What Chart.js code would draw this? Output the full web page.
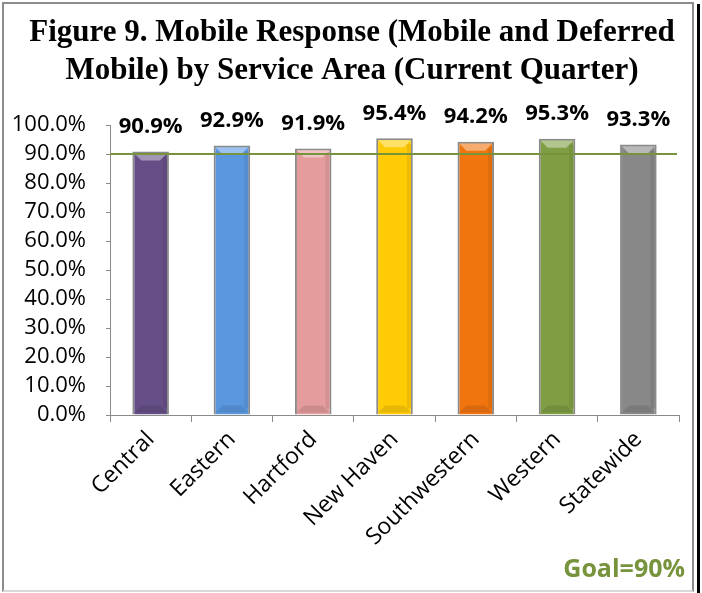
<!DOCTYPE html>
<html>
<head>
<meta charset="utf-8">
<script src="https://cdn.jsdelivr.net/npm/chart.js@4.4.1/dist/chart.umd.min.js"></script>
<style>
  html, body { margin: 0; padding: 0; background: #fff; }
  #wrap { position: relative; width: 702px; height: 593px; overflow: hidden; }
  #myChart { position: absolute; left: 0; top: 0; }
  #frame { position: absolute; left: 2px; top: 2px; width: 688px; height: 586px;
           border: 2px solid #8c8c8c; border-bottom-color: #d9d9d9; }
  #edge { position: absolute; left: 697px; top: 4px; width: 3px; height: 589px; background: #000; }
</style>
</head>
<body>
<div id="wrap">
  <canvas id="myChart" width="702" height="593"></canvas>
  <div id="frame"></div>
  <div id="edge"></div>
</div>
<script>
var areas = ['Central', 'Eastern', 'Hartford', 'New Haven', 'Southwestern', 'Western', 'Statewide'];
var mobileRate = [0.909, 0.929, 0.919, 0.954, 0.942, 0.953, 0.933];
var barColors = ['#664f86', '#5a97df', '#e49c9c', '#ffcb05', '#f0750f', '#7f9e43', '#888888'];
var goal = 0.9;
var goalText = 'Goal=90%';
var titleLines = ['Figure 9. Mobile Response (Mobile and Deferred', 'Mobile) by Service Area (Current Quarter)'];

function pct(v) { return (v * 100).toFixed(1) + '%'; }

// lighten / darken a hex colour
function shade(hex, amt) {
    var n = parseInt(hex.slice(1), 16);
    var r = n >> 16, g = (n >> 8) & 255, b = n & 255;
    function f(c) { return Math.round(amt > 0 ? c + (255 - c) * amt : c * (1 + amt)); }
    return 'rgb(' + f(r) + ',' + f(g) + ',' + f(b) + ')';
}

// little bevel on top and bottom of every bar
var bevelPlugin = {
    id: 'bevel',
    afterDatasetsDraw: function(chart) {
        var ctx = chart.ctx;
        chart.getDatasetMeta(0).data.forEach(function(bar, k) {
            var l = bar.x - bar.width / 2 + 2, r = bar.x + bar.width / 2 - 2;
            var t = bar.y + 2, b = bar.base - 2, d = 7;
            ctx.save();
            ctx.fillStyle = shade(barColors[k], 0.4);
            ctx.beginPath();
            ctx.moveTo(l, t); ctx.lineTo(r, t); ctx.lineTo(r - d, t + d); ctx.lineTo(l + d, t + d);
            ctx.closePath(); ctx.fill();
            ctx.fillStyle = shade(barColors[k], -0.1);
            ctx.beginPath();
            ctx.moveTo(l, b); ctx.lineTo(r, b); ctx.lineTo(r - d, b - d); ctx.lineTo(l + d, b - d);
            ctx.closePath(); ctx.fill();
            ctx.fillStyle = shade(barColors[k], -0.07);
            ctx.fillRect(r - 4, t + 4, 4, b - t - 8);
            ctx.restore();
        });
    }
};

// title, goal line, value labels and goal caption
var extrasPlugin = {
    id: 'extras',
    afterDraw: function(chart) {
        var ctx = chart.ctx, area = chart.chartArea;
        ctx.save();
        ctx.fillStyle = '#000';
        ctx.font = 'bold 31px "Liberation Serif"';
        ctx.textAlign = 'center';
        ctx.textBaseline = 'alphabetic';
        ctx.fillText(titleLines[0], 352, 41);
        ctx.fillText(titleLines[1], 352, 79);

        var y = chart.scales.y.getPixelForValue(goal);
        ctx.strokeStyle = '#77933c';
        ctx.lineWidth = 2;
        ctx.beginPath();
        ctx.moveTo(area.left, y);
        ctx.lineTo(area.right - 2, y);
        ctx.stroke();

        ctx.font = 'bold 22px "Open Sans"';
        ctx.textBaseline = 'middle';
        chart.getDatasetMeta(0).data.forEach(function(bar, k) {
            ctx.fillText(pct(mobileRate[k]), bar.x, bar.y - 25);
        });

        ctx.fillStyle = '#77933c';
        ctx.font = 'bold 25px "Open Sans"';
        ctx.textAlign = 'right';
        ctx.textBaseline = 'alphabetic';
        ctx.fillText(goalText, 685, 577);
        ctx.restore();
    }
};

var ctx = document.getElementById('myChart').getContext('2d');
var myChart = new Chart(ctx, {
    type: 'bar',
    data: {
        labels: areas,
        datasets: [{
            data: mobileRate,
            backgroundColor: barColors,
            borderColor: '#8a8a8a',
            borderWidth: 2,
            barPercentage: 0.45,
            categoryPercentage: 1
        }]
    },
    options: {
        responsive: false,
        animation: false,
        layout: { padding: { left: 3, right: 23, top: 125, bottom: 38 } },
        plugins: {
            legend: { display: false },
            tooltip: { enabled: false }
        },
        scales: {
            y: {
                min: 0,
                max: 1,
                afterFit: function(s) { s.width = 107; },
                ticks: {
                    stepSize: 0.1,
                    autoSkip: false,
                    callback: function(v) { return pct(v); },
                    color: '#000',
                    font: { family: '"Open Sans"', size: 22 },
                    padding: 20
                },
                grid: { drawOnChartArea: false, tickLength: 4, color: '#8a8a8a' },
                border: { color: '#8a8a8a', width: 1 }
            },
            x: {
                afterFit: function(s) { s.paddingLeft = 0; s.paddingRight = 0; },
                ticks: {
                    minRotation: 45,
                    maxRotation: 45,
                    autoSkip: false,
                    color: '#000',
                    font: { family: '"Open Sans"', size: 23 },
                    padding: 4
                },
                grid: { offset: true, drawOnChartArea: false, tickLength: 7, color: '#8a8a8a' },
                border: { color: '#8a8a8a', width: 1 }
            }
        }
    },
    plugins: [bevelPlugin, extrasPlugin]
});
</script>
</body>
</html>
